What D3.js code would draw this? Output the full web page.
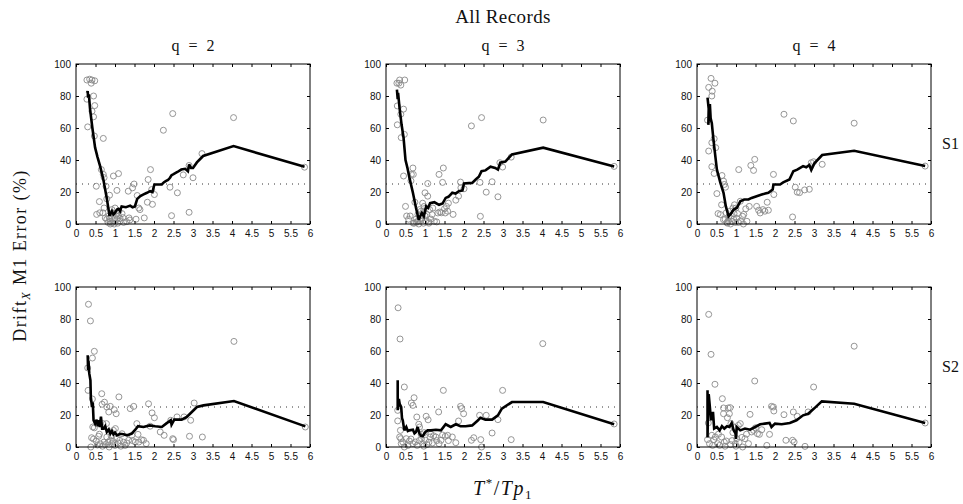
<!DOCTYPE html>
<html>
<head>
<meta charset="utf-8">
<script src="https://cdn.jsdelivr.net/npm/d3@7"></script>
<style>
  html, body { margin: 0; padding: 0; background: #fff; }
  svg { display: block; }
  .tick text { font-family: "Liberation Sans", Arial, sans-serif; font-size: 10px; fill: #111; }
  .serif { font-family: "Liberation Serif", "Times New Roman", serif; fill: #111; }
</style>
</head>
<body>
<svg id="chart" width="963" height="504"></svg>
<script>
// ---- axis ticks ----
const xTicks = [0, 0.5, 1, 1.5, 2, 2.5, 3, 3.5, 4, 4.5, 5, 5.5, 6];
const xTickLabels = ["0", "0.5", "1", "1.5", "2", "2.5", "3", "3.5", "4", "4.5", "5", "5.5", "6"];
const yTicks = [0, 20, 40, 60, 80, 100];
const yTickLabels = ["0", "20", "40", "60", "80", "100"];
const threshold = 25;

const columnTitles = ["q = 2", "q = 3", "q = 4"];
const rowTitles = ["S1", "S2"];

// ---- S1, q = 2 ----
const s1q2Points = [[0.28,90],[0.35,90.5],[0.41,90],[0.48,89.5],[0.39,88],[0.28,78],[0.45,80],[0.48,74],[0.41,70.5],[0.45,67],[0.30,60.7],[0.47,55],[0.70,53.5],[0.65,34],[0.70,31],[0.72,29],[0.52,23.6],[0.77,23.6],[0.60,14],[0.53,6],[0.61,7],[0.79,15.7],[0.86,18],[0.96,30],[1.09,31.5],[1.05,21],[1.34,20.5],[1.45,22.6],[1.49,25],[1.57,17.8],[1.61,10],[1.64,9],[1.54,3],[1.36,3.8],[1.75,3.8],[1.83,13.6],[1.85,27.8],[1.91,34],[1.96,12.3],[2.01,18.4],[1.94,21.5],[2.24,58.6],[2.48,69],[2.41,23],[2.45,5.2],[2.60,19.5],[2.75,30.7],[2.90,36.6],[2.90,7.3],[3.00,28.9],[3.23,44],[4.04,66.5],[5.86,35.5],
  [0.75,3.8],[0.79,3],[0.88,1.5],[0.92,0.5],[0.96,2],[1.0,4],[1.05,3],[1.09,5],[1.13,2],[1.18,6.5],[0.84,5],[0.94,7],[0.88,0],[0.98,0],[1.07,0.5],[1.13,3.5],[1.22,1],[0.86,3.5],[1.03,6],[0.69,7],[0.92,9],[1.0,10],[1.1,8],[1.2,4],[1.3,1.5],[1.38,2.5],[0.82,1],[0.72,10]];
const s1q2Line = [[0.28,82],[0.30,83],[0.31,79],[0.33,81],[0.36,72],[0.42,60],[0.49,47.7],[0.55,42],[0.62,36],[0.70,28],[0.79,16],[0.86,5],[0.9,7],[0.92,8],[0.96,6],[1.0,7],[1.05,9],[1.09,9.4],[1.13,8],[1.17,11],[1.28,10.5],[1.39,11.5],[1.45,10.5],[1.51,11],[1.57,15.7],[1.65,17.5],[1.72,18.4],[1.82,19.5],[1.9,20.5],[1.96,20],[2.01,24.7],[2.2,24.7],[2.25,26],[2.3,26.8],[2.36,27.5],[2.41,28.9],[2.45,30.5],[2.49,31],[2.6,32.5],[2.7,34],[2.8,34.5],[2.87,33],[2.9,37.2],[2.95,35],[3.0,35],[3.1,38.5],[3.26,42.5],[4.04,48.7],[5.86,35.8]];

// ---- S1, q = 3 ----
const s1q3Points = [[0.33,88],[0.35,90],[0.38,86.8],[0.28,88],[0.48,90],[0.29,73.8],[0.45,71.8],[0.38,68.6],[0.29,62],[0.39,54],[0.47,56],[0.45,30],[0.69,35],[0.70,31],[0.65,31],[0.64,27],[0.50,11],[0.53,5],[0.62,5],[0.58,3],[0.74,13.6],[0.77,3],[0.73,0.6],[0.81,1.7],[0.86,4.8],[0.90,8],[0.94,13],[1.0,19.5],[1.07,17.4],[1.07,25.3],[0.96,8],[1.0,5],[1.09,1.3],[1.15,3.1],[1.18,5.9],[1.24,1.7],[1.30,1.3],[1.33,6.9],[1.36,31],[1.47,35],[1.45,26],[1.52,6.9],[1.58,8],[1.60,13],[1.72,6],[1.79,14.9],[1.86,17.4],[1.91,26.2],[1.92,22.6],[2.0,22],[2.19,61.3],[2.45,66.5],[2.41,26],[2.42,4.8],[2.57,19.9],[2.72,26.4],[2.87,17],[2.92,38.3],[2.99,35.6],[3.21,41.8],[4.03,65],[5.85,36],
  [0.78,1],[0.84,0],[0.88,2],[0.92,3.5],[0.96,0.5],[1.02,2],[1.05,6],[1.12,9],[1.2,10],[0.82,6],[0.86,9],[1.38,7.5],[1.42,7],[1.5,9.5],[1.55,11],[0.98,11],[1.1,0.5],[0.7,0.5]];
const s1q3Line = [[0.28,84],[0.30,78],[0.31,82],[0.35,72],[0.40,62],[0.45,54],[0.50,40],[0.55,35],[0.60,29],[0.69,19.5],[0.77,10],[0.84,2.7],[0.88,5],[0.92,6.9],[0.97,4.8],[1.03,11],[1.08,10],[1.13,13],[1.24,13.6],[1.36,12],[1.45,12.8],[1.53,16.3],[1.6,17],[1.7,19.5],[1.78,19],[1.87,20.5],[1.96,21],[2.0,25.3],[2.21,25.7],[2.3,27.8],[2.38,29.5],[2.45,33],[2.55,33.5],[2.68,35.8],[2.8,35],[2.87,34],[2.93,38.3],[3.06,39],[3.23,43.5],[4.03,47.7],[5.85,36]];

// ---- S1, q = 4 ----
const s1q4Points = [[0.30,85.4],[0.36,91],[0.39,83],[0.46,88],[0.38,80],[0.27,64.9],[0.30,45.6],[0.38,50.8],[0.44,53.3],[0.48,47.7],[0.38,35.8],[0.44,31.6],[0.51,19],[0.60,5.9],[0.54,6.5],[0.64,30.3],[0.68,26.8],[0.73,23],[0.70,24.7],[0.63,12],[0.68,2.7],[0.77,1],[0.82,4.8],[0.85,8],[0.92,10],[0.95,6.5],[1.0,10],[1.04,6.5],[1.11,14.2],[1.07,34],[1.17,4.8],[1.19,0],[1.28,1.7],[1.34,11],[1.38,36.6],[1.45,33.5],[1.48,40.4],[1.53,11],[1.58,8.6],[1.62,6.9],[1.69,9],[1.74,8],[1.83,8.6],[1.80,13.6],[1.96,31],[1.97,18.4],[2.23,68.6],[2.47,64.4],[2.45,4.4],[2.52,23],[2.57,19.9],[2.63,19.6],[2.76,21.3],[2.88,21.7],[2.93,38.3],[2.99,38.9],[3.21,37.3],[4.03,63],[5.85,36.2],
  [0.72,3],[0.78,0.5],[0.8,2],[0.86,0],[0.9,1.5],[0.94,3],[0.98,1],[1.02,3.5],[1.06,1],[0.88,5],[1.12,2],[0.75,7],[1.2,6],[1.25,9.5],[0.96,12]];
const s1q4Line = [[0.27,79],[0.30,72],[0.29,62],[0.33,75],[0.35,66],[0.38,63],[0.40,58],[0.44,48.7],[0.51,34],[0.6,25.7],[0.68,19.5],[0.74,11],[0.81,4.8],[0.87,6.5],[0.94,9],[1.02,10],[1.11,14.2],[1.21,15.3],[1.32,15.3],[1.4,16.3],[1.53,17.4],[1.66,18.4],[1.75,19],[1.83,19.5],[1.94,21.5],[1.96,24.7],[2.13,24.7],[2.21,26],[2.37,27.8],[2.47,33],[2.57,34],[2.72,36.2],[2.8,35.5],[2.88,36.9],[2.93,33.8],[3.01,37.9],[3.21,43.1],[4.03,45.8],[5.85,36.2]];

// ---- S2, q = 2 ----
const s2q2Points = [[0.32,89.2],[0.37,78.8],[0.42,55.6],[0.47,59.8],[0.30,49.4],[0.31,35.4],[0.42,30],[0.43,12.5],[0.47,12],[0.40,5.8],[0.45,5],[0.38,0],[0.52,3.75],[0.58,6.7],[0.55,1.25],[0.66,33.3],[0.67,26.7],[0.73,28],[0.79,25],[0.84,21.9],[0.88,25.4],[0.98,23.3],[1.03,20.8],[1.10,31.3],[0.69,14.6],[0.78,14.6],[0.72,3.1],[0.79,6.25],[0.88,4.2],[0.92,2.1],[1.0,1],[1.05,5.2],[0.96,10.4],[1.01,11.5],[1.12,4.2],[1.18,8.3],[1.26,1],[1.35,4.2],[1.39,24],[1.48,25.4],[1.43,7.3],[1.52,3.1],[1.56,14.6],[1.59,7.9],[1.61,3.1],[1.73,4.2],[1.80,2.1],[1.86,27],[1.90,13],[1.95,21.3],[2.01,18.3],[2.16,9.4],[2.26,7.3],[2.43,16.7],[2.48,5.2],[2.50,4.6],[2.59,18.8],[2.77,18.8],[2.91,6.7],[2.94,16.7],[3.03,27.5],[3.24,6.25],[4.05,66],[5.88,12.5],
  [0.62,2],[0.68,0.5],[0.75,1.5],[0.82,3],[0.85,0],[0.95,3.5],[1.08,2.5],[1.15,0.5],[1.22,3],[1.3,2.5],[0.9,7],[0.6,8],[1.45,4],[1.68,4.5]];
const s2q2Line = [[0.30,57.3],[0.31,48],[0.32,54],[0.34,46],[0.37,41.7],[0.38,31.3],[0.41,25],[0.43,28],[0.45,16.7],[0.49,14.6],[0.53,17],[0.56,13],[0.58,16.7],[0.61,12.5],[0.64,19],[0.67,11.5],[0.71,11.5],[0.75,13],[0.79,9.4],[0.84,11],[0.88,8.3],[0.92,10],[0.96,7.9],[1.0,9],[1.05,7.3],[1.13,8.3],[1.22,8],[1.31,7.3],[1.43,8.3],[1.52,10.8],[1.59,13],[1.73,12.5],[1.89,13.5],[2.03,13],[2.2,12.5],[2.31,14.6],[2.43,16.7],[2.45,14],[2.52,17.1],[2.71,17.1],[2.84,18.8],[2.97,21.9],[3.1,25],[3.27,26],[4.05,28.75],[5.88,12.9]];

// ---- S2, q = 3 ----
const s2q3Points = [[0.31,87],[0.36,67.5],[0.47,37.5],[0.72,30.8],[0.65,27.5],[0.69,26],[0.30,22.9],[0.30,16.3],[0.37,10.4],[0.35,6.25],[0.38,5.2],[0.43,3.1],[0.39,2.1],[0.47,0],[0.52,5.2],[0.60,3.75],[0.69,2.1],[0.75,3.1],[0.79,18.75],[0.84,14.2],[0.86,12.5],[0.91,5.2],[0.94,2.1],[1.01,4.2],[1.03,19.2],[1.08,17],[1.13,6.25],[1.19,2.5],[1.28,6.25],[1.35,21.9],[1.36,2.1],[1.41,4.2],[1.47,35.4],[1.52,6.7],[1.58,7.3],[1.70,6.25],[1.79,2.7],[1.86,16.25],[1.91,25.4],[1.94,24],[1.99,20.8],[2.19,4.2],[2.25,5.8],[2.40,19.8],[2.43,4.6],[2.45,0],[2.57,19.8],[2.72,8.75],[2.87,17.1],[2.99,35.4],[3.21,4.6],[4.02,64.6],[5.85,14.4],
  [0.8,1],[0.85,4],[0.9,8],[0.97,0.5],[1.05,1.5],[1.1,3],[1.15,8],[1.22,7],[0.56,1],[0.64,5],[1.45,7.5],[1.6,4],[0.98,9],[1.3,4]];
const s2q3Line = [[0.30,41.7],[0.30,23],[0.33,30],[0.35,27],[0.39,25],[0.41,18],[0.43,16.7],[0.47,10.4],[0.52,12.5],[0.56,10],[0.6,10.4],[0.69,10.8],[0.73,8.5],[0.77,9.4],[0.81,12.5],[0.86,8.3],[0.9,7],[0.94,6.7],[1.01,9.4],[1.07,10.4],[1.15,10.4],[1.28,10.8],[1.41,10.4],[1.53,14.2],[1.66,12.5],[1.79,14.2],[1.91,13],[2.04,13],[2.21,13.5],[2.36,16.7],[2.42,18.3],[2.55,17.1],[2.72,17.1],[2.87,19.8],[2.97,24],[3.23,28.1],[4.03,28.1],[5.85,14.2]];

// ---- S2, q = 4 ----
const s2q4Points = [[0.30,82.9],[0.36,57.9],[0.46,39.2],[0.29,15],[0.27,4.6],[0.38,7.3],[0.32,2.1],[0.43,4.6],[0.47,6.25],[0.53,2.1],[0.63,6.25],[0.65,30.2],[0.68,24.4],[0.68,20.8],[0.75,3.75],[0.80,24.4],[0.83,20.8],[0.85,24.6],[0.78,18.3],[0.87,14.6],[0.94,12.5],[0.98,2.1],[1.02,5.2],[1.06,13.5],[1.11,14.6],[1.17,0],[1.23,5.2],[1.32,2.1],[1.36,20.4],[1.40,9.4],[1.45,10.4],[1.48,41.25],[1.55,8.3],[1.60,7.9],[1.66,10.8],[1.79,1],[1.86,7.9],[1.91,25.4],[1.96,25],[1.97,22.5],[2.23,20.2],[2.28,4.2],[2.45,4.2],[2.49,3.1],[2.47,21.9],[2.57,19.2],[2.77,0.4],[2.85,21.9],[2.99,37.5],[4.03,63],[5.85,15],
  [0.58,1],[0.7,3],[0.72,0.5],[0.86,1.5],[0.9,4],[1.0,0.5],[1.08,3],[1.15,6],[1.27,8],[0.4,1],[0.55,8],[0.92,9],[1.5,12]];
const s2q4Line = [[0.27,35.4],[0.27,6],[0.28,20],[0.30,33],[0.33,25],[0.36,16.7],[0.41,21.9],[0.44,11.5],[0.51,12.5],[0.58,10.4],[0.64,13],[0.70,11.5],[0.77,13],[0.83,12.5],[0.89,15],[0.94,10.4],[0.99,8.3],[1.0,5],[1.02,12.5],[1.11,10.4],[1.23,11.5],[1.36,10.8],[1.49,12.5],[1.62,14.2],[1.74,14.6],[1.86,15],[1.91,12.5],[2.0,14.6],[2.17,14.2],[2.38,15],[2.55,16.7],[2.72,19.8],[2.85,20.8],[3.0,24],[3.2,28.5],[4.03,27],[5.85,15]];

const panelData = [
  [ {points: s1q2Points, line: s1q2Line}, {points: s1q3Points, line: s1q3Line}, {points: s1q4Points, line: s1q4Line} ],
  [ {points: s2q2Points, line: s2q2Line}, {points: s2q3Points, line: s2q3Line}, {points: s2q4Points, line: s2q4Line} ]
];

// ---- layout ----
const colX = [76, 386, 697];
const rowY = [64, 287];
const pw = 234, ph = 160;

const svg = d3.select("#chart");

const x = d3.scaleLinear().domain([0, 6]).range([0, pw]);
const y = d3.scaleLinear().domain([0, 100]).range([ph, 0]);

const line = d3.line().x(d => x(d[0])).y(d => y(d[1]));

panelData.forEach((row, r) => {
  row.forEach((cell, c) => {
    const g = svg.append("g").attr("transform", `translate(${colX[c]},${rowY[r]})`);

    // threshold reference line
    g.append("line")
      .attr("x1", x(0)).attr("x2", x(6))
      .attr("y1", y(threshold)).attr("y2", y(threshold))
      .attr("stroke", "#333").attr("stroke-width", 1)
      .attr("stroke-dasharray", "1,5");

    // individual records
    g.append("g").selectAll("circle").data(cell.points).join("circle")
      .attr("cx", d => x(d[0])).attr("cy", d => y(d[1]))
      .attr("r", 3)
      .attr("fill", "none")
      .attr("stroke", "#8a8a8a")
      .attr("stroke-width", 0.9);

    // running mean
    g.append("path").datum(cell.line)
      .attr("d", line)
      .attr("fill", "none")
      .attr("stroke", "#000")
      .attr("stroke-width", 2.6)
      .attr("stroke-linejoin", "miter")
      .attr("stroke-miterlimit", 3);

    // axes with inward ticks on all four sides
    const ax = g.append("g").attr("transform", `translate(0,${ph})`)
      .call(d3.axisBottom(x).tickValues(xTicks).tickSizeInner(-3).tickSizeOuter(0).tickPadding(6)
        .tickFormat((d, i) => xTickLabels[i]));
    const axTop = g.append("g")
      .call(d3.axisTop(x).tickValues(xTicks).tickSizeInner(-3).tickSizeOuter(0).tickFormat(""));
    const ay = g.append("g")
      .call(d3.axisLeft(y).tickValues(yTicks).tickSizeInner(-3).tickSizeOuter(0).tickPadding(5)
        .tickFormat((d, i) => yTickLabels[i]));
    const ayR = g.append("g").attr("transform", `translate(${pw},0)`)
      .call(d3.axisRight(y).tickValues(yTicks).tickSizeInner(-3).tickSizeOuter(0).tickFormat(""));
    [ax, axTop, ay, ayR].forEach(a => {
      a.select(".domain").remove();
      a.selectAll(".tick line").attr("stroke", "#000");
    });
    ax.selectAll(".tick text").attr("dy", "0.71em");

    // frame
    g.append("rect").attr("x", 0).attr("y", 0).attr("width", pw).attr("height", ph)
      .attr("fill", "none").attr("stroke", "#000").attr("stroke-width", 1);
  });
});

// column titles
columnTitles.forEach((t, c) => {
  svg.append("text").attr("class", "serif")
    .attr("x", colX[c] + pw / 2).attr("y", 51)
    .attr("text-anchor", "middle")
    .style("font-size", "16px").style("word-spacing", "5px")
    .text(t);
});

// row titles
rowTitles.forEach((t, r) => {
  svg.append("text").attr("class", "serif")
    .attr("x", 942).attr("y", rowY[r] + ph / 2 + 5)
    .style("font-size", "16px")
    .text(t);
});

// figure title
svg.append("text").attr("class", "serif")
  .attr("x", colX[1] + pw / 2).attr("y", 23)
  .attr("text-anchor", "middle")
  .style("font-size", "19px").style("letter-spacing", "0.4px")
  .text("All Records");

// y label: Drift_X M1 Error (%)
const yl = svg.append("text").attr("class", "serif")
  .attr("transform", `translate(26,${(rowY[0] + rowY[1] + ph) / 2}) rotate(-90)`)
  .attr("text-anchor", "middle")
  .style("font-size", "18px").style("letter-spacing", "1.4px");
yl.append("tspan").text("Drift");
yl.append("tspan").attr("dy", 4).style("font-size", "12px").style("font-style", "italic").text("X");
yl.append("tspan").attr("dy", -4).text(" M1 Error (%)");

// x label: T*/Tp_1
const xl = svg.append("text").attr("class", "serif")
  .attr("x", colX[1] + pw / 2).attr("y", 495)
  .attr("text-anchor", "middle")
  .style("font-size", "20px").style("font-style", "italic").style("letter-spacing", "1.5px");
xl.append("tspan").text("T");
xl.append("tspan").attr("dy", -8).style("font-size", "13px").style("font-style", "normal").text("*");
xl.append("tspan").attr("dy", 8).style("font-style", "normal").text("/");
xl.append("tspan").text("Tp");
xl.append("tspan").attr("dy", 4).style("font-size", "13px").style("font-style", "normal").text("1");
</script>
</body>
</html>
